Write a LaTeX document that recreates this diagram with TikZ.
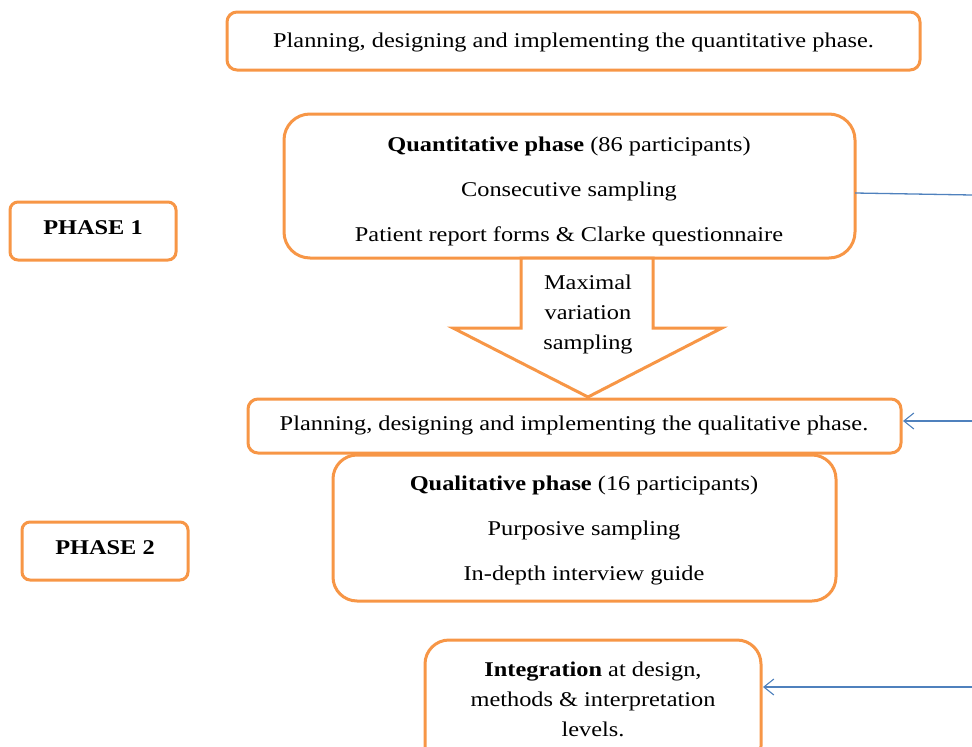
\documentclass[tikz,border=0pt]{standalone}
\usepackage{fontspec}
\setmainfont[FakeStretch=1.16]{Liberation Serif}
\usetikzlibrary{arrows.meta}
\definecolor{ora}{HTML}{F79646}
\definecolor{blu}{HTML}{4F81BD}
\tikzset{
  obox/.style={draw=ora, line width=3pt, fill=white, inner sep=0pt},
  txt/.style={font=\fontsize{21}{25}\selectfont, inner sep=0pt, anchor=base},
  bline/.style={draw=blu, line width=1.3pt},
  barr/.style={bline, -{Straight Barb[length=10pt,width=16pt,line width=1.1pt]}},
}
\begin{document}
\begin{tikzpicture}[x=1pt,y=-1pt]
\useasboundingbox (0,0) rectangle (972,747);
\clip (0,0) rectangle (972,747);
% boxes
\draw[obox, rounded corners=10pt] (227,12) rectangle (920,70);
\draw[obox, rounded corners=26pt] (284,114) rectangle (855,258);
\coordinate (quantR) at (855,193);
\draw[obox, rounded corners=8pt] (10,202) rectangle (176,260);
\draw[obox, rounded corners=8pt] (22,522) rectangle (188,580);
% arrow
\draw[ora, line width=3pt, fill=white, line join=miter]
  (521,258) -- (653,258) -- (653,328) -- (722,328) -- (588,397) -- (453,328) -- (521,328) -- cycle;
\draw[obox, rounded corners=10pt] (248,399) rectangle (901,453);
\coordinate (qualplanR) at (903,421);
\draw[obox, rounded corners=24pt] (333,455) rectangle (836,601);
\draw[obox, rounded corners=24pt] (425,640) rectangle (761,770);
\coordinate (integR) at (763,687);
% texts
\node[txt] (t1) at (573.5,47) {Planning, designing and implementing the quantitative phase.};
\node[txt] (q1) at (569,151) {\textbf{Quantitative phase} (86 participants)};
\node[txt] (q2) at (569,196) {Consecutive sampling};
\node[txt] (q3) at (569,241) {Patient report forms \& Clarke questionnaire};
\node[txt] (p1) at (93,234) {\textbf{PHASE 1}};
\node[txt] (m1) at (588,289) {Maximal};
\node[txt] (m2) at (588,319) {variation};
\node[txt] (m3) at (588,349) {sampling};
\node[txt] (t2) at (574,430) {Planning, designing and implementing the qualitative phase.};
\node[txt] (l1) at (584,490) {\textbf{Qualitative phase} (16 participants)};
\node[txt] (l2) at (584,535) {Purposive sampling};
\node[txt] (l3) at (584,580) {In-depth interview guide};
\node[txt] (p2) at (105,554) {\textbf{PHASE 2}};
\node[txt] (i1) at (593,676) {\textbf{Integration} at design,};
\node[txt] (i2) at (593,706) {methods \& interpretation};
\node[txt] (i3) at (593,736) {levels.};
% blue connectors
\coordinate (e1) at (972,195);
\coordinate (e2) at (972,421);
\coordinate (e3) at (972,687);
\draw[bline] (quantR) -- (e1);
\draw[barr] (e2) -- (qualplanR);
\draw[barr] (e3) -- (integR);
\end{tikzpicture}
\end{document}
